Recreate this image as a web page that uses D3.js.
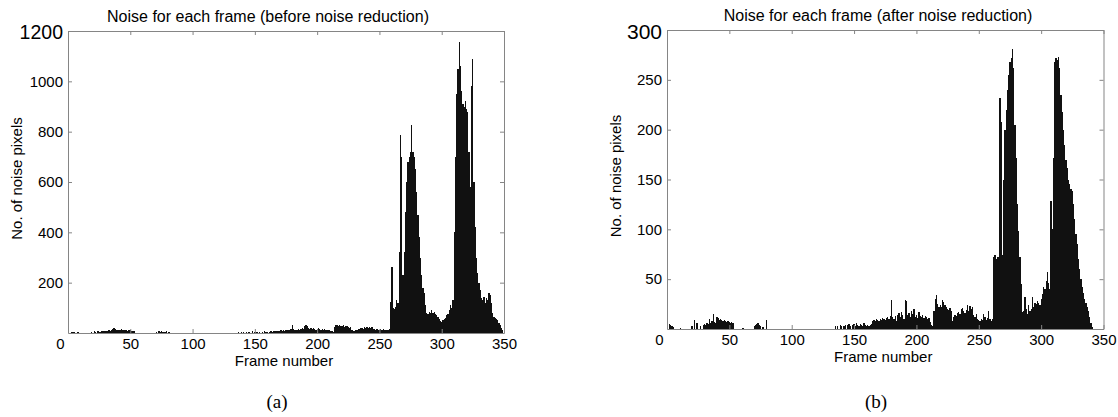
<!DOCTYPE html>
<html>
<head>
<meta charset="utf-8">
<script src="https://cdn.jsdelivr.net/npm/d3@7"></script>
<style>
  body { margin: 0; background: #fff; }
  svg { display: block; font-family: Arial, "Liberation Sans", sans-serif; }
</style>
</head>
<body>
<svg id="drawing_region" width="1118" height="417"></svg>
<script>
// noise pixels per frame, frame 1..350 (10 frames per row)
const noiseBefore = [
    0, 0, 5, 4, 3, 0, 0, 2, 0, 0,
    0, 0, 0, 0, 0, 0, 0, 0, 4, 0,
    6, 3, 0, 7, 5, 3, 6, 8, 6, 7,
    9, 8, 10, 7, 12, 14, 18, 15, 10, 12,
    13, 11, 14, 12, 10, 13, 11, 9, 12, 10,
    8, 9, 6, 0, 0, 0, 0, 0, 0, 0,
    0, 0, 0, 0, 0, 0, 0, 0, 0, 0,
    4, 0, 6, 5, 7, 5, 4, 3, 6, 0,
    4, 0, 0, 0, 0, 0, 0, 0, 0, 0,
    0, 0, 0, 0, 0, 0, 0, 0, 0, 0,
    0, 0, 0, 0, 0, 0, 0, 0, 0, 0,
    0, 0, 0, 0, 0, 0, 0, 0, 0, 0,
    0, 0, 0, 0, 0, 0, 0, 0, 0, 0,
    0, 0, 0, 0, 0, 0, 3, 0, 4, 0,
    3, 0, 5, 0, 3, 4, 0, 6, 0, 4,
    5, 3, 0, 5, 0, 4, 0, 6, 5, 4,
    0, 5, 6, 5, 7, 6, 8, 7, 9, 8,
    10, 9, 11, 8, 10, 12, 10, 13, 15, 30,
    14, 11, 10, 13, 15, 12, 14, 18, 16, 26,
    32, 28, 18, 16, 20, 14, 18, 16, 13, 15,
    20, 14, 13, 16, 12, 14, 11, 13, 10, 12,
    9, 6, 5, 24, 33, 30, 28, 32, 27, 29,
    31, 25, 29, 27, 23, 19, 25, 10, 7, 9,
    10, 13, 16, 14, 18, 20, 16, 22, 18, 24,
    20, 22, 18, 23, 16, 15, 13, 14, 11, 13,
    15, 11, 14, 10, 13, 11, 10, 14, 125, 262,
    100, 95, 105, 130, 120, 320, 786, 700, 230, 320,
    480, 600, 680, 700, 720, 826, 720, 700, 650, 560,
    470, 380, 300, 230, 180, 160, 110, 80, 75, 85,
    80, 90, 80, 85, 75, 70, 65, 55, 48, 45,
    50, 55, 60, 70, 75, 90, 110, 100, 130, 400,
    700, 950, 1050, 1157, 1060, 960, 910, 900, 920, 890,
    880, 720, 580, 980, 1090, 600, 420, 300, 240, 200,
    170, 140, 130, 145, 120, 140, 130, 160, 150, 120,
    80, 65, 60, 55, 50, 40, 30, 20, 10, 0
];

const noiseAfter = [
    0, 5, 4, 3, 2, 0, 0, 0, 0, 0,
    1, 0, 0, 0, 0, 0, 0, 0, 0, 3,
    0, 9, 0, 6, 0, 0, 3, 0, 4, 5,
    4, 6, 5, 10, 6, 8, 15, 7, 6, 12,
    11, 9, 10, 9, 8, 9, 8, 7, 8, 7,
    6, 7, 6, 0, 0, 0, 0, 0, 0, 0,
    1, 0, 0, 0, 0, 0, 0, 0, 0, 3,
    4, 5, 6, 4, 3, 0, 2, 0, 0, 9,
    0, 0, 0, 0, 0, 0, 0, 0, 0, 0,
    0, 0, 0, 0, 0, 0, 0, 0, 0, 0,
    0, 0, 0, 0, 0, 0, 0, 0, 0, 0,
    0, 0, 0, 0, 0, 0, 0, 0, 0, 0,
    0, 0, 0, 0, 0, 0, 0, 0, 0, 0,
    0, 0, 0, 0, 3, 0, 3, 0, 4, 3,
    0, 3, 4, 0, 4, 5, 3, 0, 4, 5,
    3, 6, 4, 3, 5, 4, 3, 6, 4, 3,
    4, 3, 4, 5, 8, 9, 8, 10, 9, 8,
    10, 9, 11, 10, 9, 11, 12, 10, 13, 29,
    12, 10, 13, 8, 14, 16, 12, 17, 14, 10,
    29, 28, 14, 16, 12, 18, 15, 20, 12, 14,
    11, 17, 13, 12, 14, 11, 13, 12, 10, 11,
    7, 4, 3, 18, 30, 34, 25, 22, 24, 22,
    29, 27, 24, 22, 20, 19, 21, 18, 8, 12,
    14, 13, 16, 17, 15, 20, 21, 18, 16, 19,
    24, 18, 23, 20, 22, 14, 12, 15, 10, 9,
    8, 10, 9, 15, 12, 9, 11, 18, 10, 8,
    10, 72, 74, 70, 72, 72, 232, 208, 74, 150,
    200, 220, 240, 255, 268, 272, 281, 262, 205, 172,
    125, 98, 72, 45, 17, 18, 32, 20, 15, 24,
    18, 20, 32, 22, 26, 25, 28, 26, 24, 30,
    35, 42, 40, 48, 57, 46, 40, 128, 100, 172,
    268, 272, 270, 273, 262, 235, 218, 200, 185, 170,
    162, 150, 145, 140, 138, 125, 110, 95, 85, 70,
    60, 50, 42, 36, 30, 26, 22, 18, 12, 6,
    2, 0, 0, 0, 0, 0, 0, 0, 0, 0
];

const frameTicks = [0, 50, 100, 150, 200, 250, 300, 350];
const beforeTicks = [200, 400, 600, 800, 1000, 1200];
const afterTicks = [50, 100, 150, 200, 250, 300];

const svg = d3.select('#drawing_region');
svg.append('rect').attr('width', 1118).attr('height', 417).attr('fill', '#fff');

function drawPanel(config, values) {
    const x = d3.scaleLinear().domain([0, 350]).range([config.left, config.right]);
    const y = d3.scaleLinear().domain([0, config.ymax]).range([config.bottom, config.top]);
    const g = svg.append('g');

    const bars = values.map((v, i) => ({ frame: i + 1, value: v })).filter(d => d.value > 0);
    g.append('g').selectAll('rect').data(bars)
        .join('rect')
        .attr('x', d => x(d.frame - 0.5))
        .attr('width', x(1) - x(0))
        .attr('y', d => y(d.value))
        .attr('height', d => y(0) - y(d.value))
        .attr('fill', '#111')
        .attr('shape-rendering', 'crispEdges');

    // box with inward ticks on all sides
    const fmt = d3.format('d');
    const xb = g.append('g').attr('transform', `translate(0, ${config.bottom})`)
        .call(d3.axisBottom(x).tickValues(frameTicks).tickFormat(fmt).tickSizeInner(-4).tickSizeOuter(0).tickPadding(5));
    g.append('g').attr('transform', `translate(0, ${config.top})`)
        .call(d3.axisTop(x).tickValues(frameTicks).tickSizeInner(-4).tickSizeOuter(0).tickFormat(''));
    const yl = g.append('g').attr('transform', `translate(${config.left}, 0)`)
        .call(d3.axisLeft(y).tickValues(config.ticks).tickFormat(fmt).tickSizeInner(-4).tickSizeOuter(0).tickPadding(5));
    g.append('g').attr('transform', `translate(${config.right}, 0)`)
        .call(d3.axisRight(y).tickValues(config.ticks).tickSizeInner(-4).tickSizeOuter(0).tickFormat(''));

    g.selectAll('.domain, .tick line').attr('stroke', '#858585');
    g.selectAll('.tick text').attr('fill', '#000').style('font-size', '15px')
        .style('font-family', 'Arial, "Liberation Sans", sans-serif');
    xb.selectAll('.tick text').filter(d => d === 0).attr('dx', -8);
    yl.selectAll('.tick text').filter(d => d === config.ymax)
        .style('font-size', config.topSize).attr('dy', '0.4em');

    g.append('text')
        .attr('x', config.titleX).attr('y', config.top - 9)
        .attr('text-anchor', 'middle').style('font-size', '16px')
        .text(config.title);
    g.append('text')
        .attr('x', (config.left + config.right) / 2 - 2).attr('y', config.bottom + 33)
        .attr('text-anchor', 'middle').style('font-size', '15px')
        .text('Frame number');
    g.append('text')
        .attr('transform', `translate(${config.left - 46}, ${(config.top + config.bottom) / 2 - 3.5}) rotate(-90)`)
        .attr('text-anchor', 'middle').style('font-size', '15px')
        .text('No. of noise pixels');
    g.append('text')
        .attr('x', config.captionX).attr('y', 408)
        .attr('text-anchor', 'middle')
        .style('font-family', '"Liberation Serif", "Times New Roman", serif').style('font-size', '19px')
        .text(config.caption);
}

drawPanel({
    left: 68, right: 504, top: 31, bottom: 333, ymax: 1200, ticks: beforeTicks, topSize: '19.5px',
    title: 'Noise for each frame (before noise reduction)', titleX: 268, caption: '(a)', captionX: 277
}, noiseBefore);

drawPanel({
    left: 667, right: 1103.5, top: 30, bottom: 329, ymax: 300, ticks: afterTicks, topSize: '21px',
    title: 'Noise for each frame (after noise reduction)', titleX: 878, caption: '(b)', captionX: 876
}, noiseAfter);
</script>
</body>
</html>
